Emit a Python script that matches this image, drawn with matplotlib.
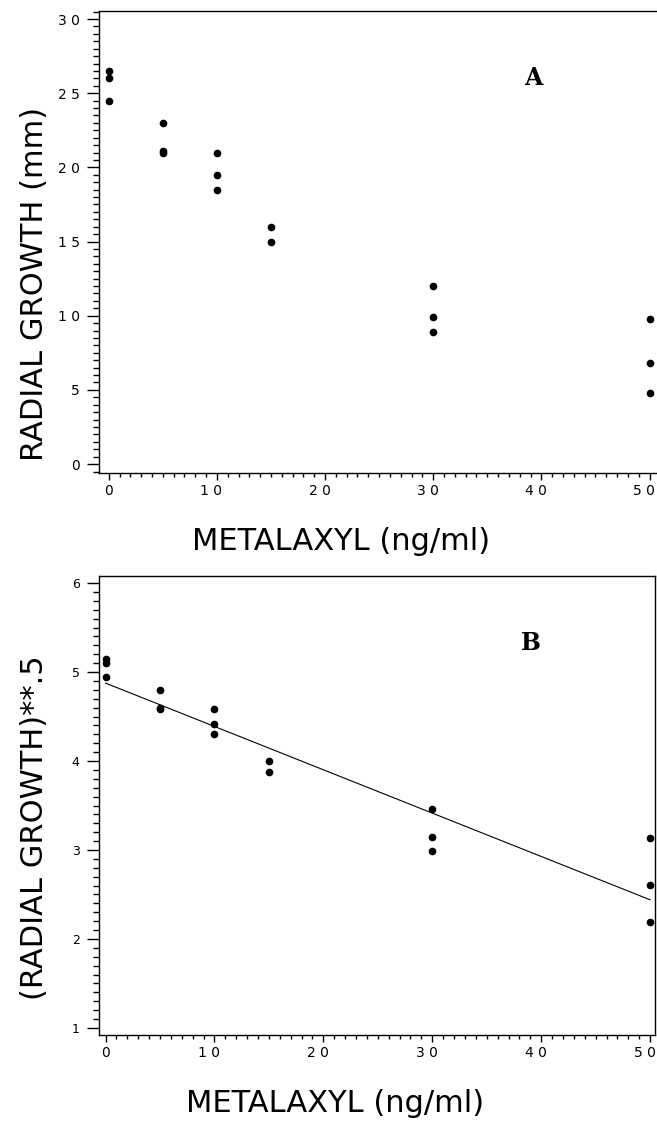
import matplotlib
matplotlib.use("Agg")
import matplotlib.pyplot as plt
import matplotlib.transforms as mtransforms
from matplotlib.ticker import FixedLocator, MultipleLocator

# metalaxyl concentration (ng/ml) and radial growth (mm)
conc = [0, 0, 0, 5, 5, 5, 10, 10, 10, 15, 15, 30, 30, 30, 50, 50, 50]
growth = [26.5, 26.0, 24.5, 23.0, 21.0, 21.1, 21.0, 19.5, 18.5,
          16.0, 15.0, 12.0, 9.9, 8.9, 9.8, 6.8, 4.8]
sqrt_growth = [g ** 0.5 for g in growth]

# fitted line in panel B (ends)
fit_x = [0, 50]
fit_y = [4.876, 2.44]

xticks = [0, 10, 20, 30, 40, 50]
xtick_labels = ["0", "1 0", "2 0", "3 0", "4 0", "5 0"]
yticks_a = [0, 5, 10, 15, 20, 25, 30]
ytick_labels_a = ["0", "5", "1 0", "1 5", "2 0", "2 5", "3 0"]
yticks_b = [1, 2, 3, 4, 5, 6]
ytick_labels_b = ["1", "2", "3", "4", "5", "6"]

plt.rcParams['font.family'] = ['DejaVu Sans']

fig = plt.figure(figsize=(6.57, 11.24), dpi=100)
axA = fig.add_axes([99/657, 1-473/1124, 1-99/657-0.0015, (473-11)/1124])
axB = fig.add_axes([99/657, 1-1035/1124, (655-99)/657, (1035-576)/1124])


def style(ax, yminor, xlab_x):
    for s in ax.spines.values():
        s.set_linewidth(1.0)
    ax.xaxis.set_major_locator(FixedLocator(xticks))
    ax.xaxis.set_minor_locator(MultipleLocator(1))
    ax.set_xticklabels(xtick_labels, fontsize=10)
    ax.yaxis.set_minor_locator(MultipleLocator(yminor))
    ax.tick_params(axis='y', which='major', direction='out', length=9, width=1.0, pad=5)
    ax.tick_params(axis='y', which='minor', direction='out', length=4, width=1.0)
    ax.tick_params(axis='x', which='major', direction='out', length=5, width=1.0, pad=3)
    ax.tick_params(axis='x', which='minor', direction='out', length=3, width=1.0)
    ax.set_xlabel("METALAXYL (ng/ml)", fontsize=22, labelpad=21)
    ax.xaxis.label.set_x(xlab_x)
    # two-digit labels sit a little left of their ticks, as in the original
    shift = mtransforms.ScaledTranslation(-4/72, 0, fig.dpi_scale_trans)
    for tick in ax.xaxis.get_major_ticks()[1:]:
        tick.label1.set_transform(tick.label1.get_transform() + shift)


# panel A
axA.plot(conc, growth, 'o', color='black', ms=4.5, ls='none')
axA.set_xlim(-0.9, 50.6)
axA.set_ylim(-0.6, 30.54)
axA.yaxis.set_major_locator(FixedLocator(yticks_a))
axA.set_yticklabels(ytick_labels_a, fontsize=10)
style(axA, 0.5, 0.434)
axA.spines['right'].set_visible(False)
axA.set_ylabel("RADIAL GROWTH (mm)", fontsize=22)
axA.yaxis.set_label_coords(-0.09, 0.41)
axA.text(0.78, 0.855, "A", transform=axA.transAxes, fontsize=17,
         fontweight='bold', family='DejaVu Serif', ha='center', va='center')

# panel B
axB.plot(conc, sqrt_growth, 'o', color='black', ms=4.5, ls='none')
axB.plot(fit_x, fit_y, color='black', lw=0.8)
axB.set_xlim(-0.6, 50.45)
axB.set_ylim(0.92, 6.08)
axB.yaxis.set_major_locator(FixedLocator(yticks_b))
axB.set_yticklabels(ytick_labels_b, fontsize=9)
style(axB, 0.1, 0.424)
axB.set_ylabel("(RADIAL GROWTH)**.5", fontsize=22, ha='left')
axB.yaxis.set_label_coords(-0.09, 0.076)
axB.text(0.776, 0.855, "B", transform=axB.transAxes, fontsize=17,
         fontweight='bold', family='DejaVu Serif', ha='center', va='center')

fig.savefig("out.png", dpi=100)
